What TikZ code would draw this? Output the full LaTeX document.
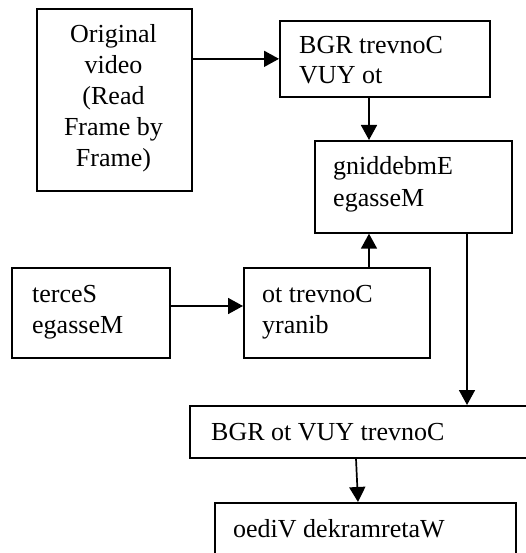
\documentclass[tikz,border=0pt]{standalone}
\usepackage{fontspec}
\setmainfont{Liberation Serif}
\usetikzlibrary{arrows.meta}
\begin{document}
\begin{tikzpicture}[x=1pt,y=-1pt,
  boxshape/.style={draw,line width=1.7pt,inner sep=0pt,anchor=north west},
  txt/.style={inner sep=0pt,anchor=base west,font=\fontsize{26}{31}\selectfont},
  ctxt/.style={inner sep=0pt,anchor=base,font=\fontsize{26}{31}\selectfont},
  arr/.style={line width=1.7pt,-{Triangle[length=15pt,width=16pt]}}]
\useasboundingbox (0,0) rectangle (526,553);
\clip (0,0) rectangle (526,553);
% boxes
\node[boxshape,minimum width=155pt,minimum height=182pt] (b1) at (36,8) {};
\node[boxshape,minimum width=210pt,minimum height=76pt] (b2) at (279,20) {};
\node[boxshape,minimum width=197pt,minimum height=92pt] (b3) at (314,140) {};
\node[boxshape,minimum width=158pt,minimum height=90pt] (b4) at (11,267) {};
\node[boxshape,minimum width=186pt,minimum height=90pt] (b5) at (243,267) {};
\node[boxshape,minimum width=360pt,minimum height=52pt] (b6) at (189,405) {};
\node[boxshape,minimum width=301pt,minimum height=80pt] (b7) at (214,502) {};
% texts
\node[ctxt] (t1a) at (113.5,43) {Original};
\node[ctxt] (t1b) at (113.5,74) {video};
\node[ctxt] (t1c) at (113.5,105) {(Read};
\node[ctxt] (t1d) at (113.5,136) {Frame by};
\node[ctxt] (t1e) at (113.5,167) {Frame)};
\node[txt] (t2a) at (299,54) {BGR trevnoC};
\node[txt] (t2b) at (299,84) {VUY ot};
\node[txt] (t3a) at (333,175) {gniddebmE};
\node[txt] (t3b) at (333,206) {egasseM};
\node[txt] (t4a) at (32,302) {terceS};
\node[txt] (t4b) at (32,333) {egasseM};
\node[txt] (t5a) at (262,302) {ot trevnoC};
\node[txt] (t5b) at (262,333) {yranib};
\node[txt] (t6) at (211,440) {BGR ot VUY trevnoC};
\node[txt] (t7) at (233,537) {oediV dekramretaW};
% helper coordinates
\coordinate (cA) at (369,0);
\coordinate (cB) at (467,0);
\coordinate (cC) at (0,306);
\coordinate (cD) at (356,0);
\coordinate (cE) at (358,0);
% connectors
\draw[arr] (b1.east |- b2.west) -- (b2.west);
\draw[arr] (b2.south -| cA) -- (b3.north -| cA);
\draw[arr] (b4.east |- cC) -- (b5.west |- cC);
\draw[arr] (b5.north -| cA) -- (b3.south -| cA);
\draw[arr] (b3.south -| cB) -- (b6.north -| cB);
\draw[arr] (b6.south -| cD) -- (b7.north -| cE);
\end{tikzpicture}
\end{document}
